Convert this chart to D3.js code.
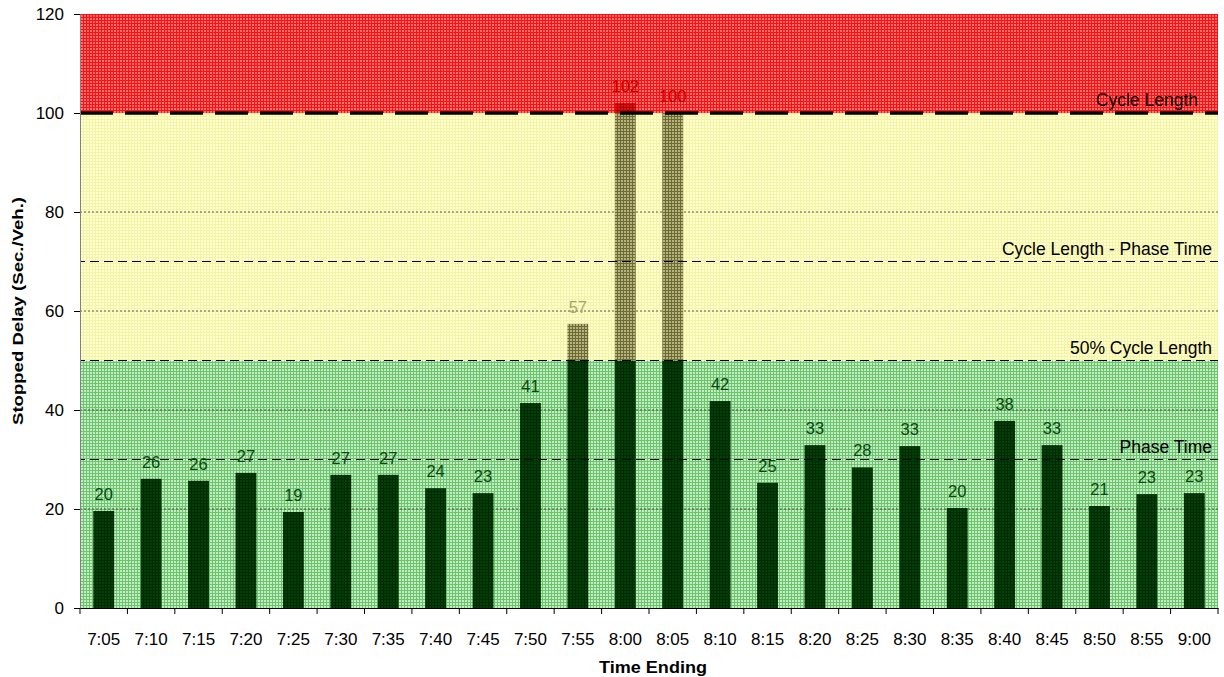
<!DOCTYPE html>
<html>
<head>
<meta charset="utf-8">
<script src="https://cdn.jsdelivr.net/npm/d3@7"></script>
<style>
  body { margin: 0; background: #fff; }
  text { font-family: "Liberation Sans", Arial, sans-serif; }
</style>
</head>
<body>
<div id="chart"></div>
<script>
// data (bar heights; labels show them rounded)
var times = ["7:05","7:10","7:15","7:20","7:25","7:30","7:35","7:40","7:45","7:50","7:55","8:00",
             "8:05","8:10","8:15","8:20","8:25","8:30","8:35","8:40","8:45","8:50","8:55","9:00"];
var delays = [19.6,26.1,25.7,27.3,19.4,26.9,26.9,24.2,23.2,41.4,57.4,102,
              100,41.8,25.3,32.9,28.4,32.7,20.2,37.8,32.9,20.6,23.0,23.2];
var yTicks = [0,20,40,60,80,100,120];
var refValues = [100,70,50,30];
var refLabels = ["Cycle Length","Cycle Length - Phase Time","50% Cycle Length","Phase Time"];
var zoneLows = [0,50,100];
var zoneHighs = [50,100,120];

var W = 1224, H = 677;
var margin = {top: 14, right: 6, bottom: 69, left: 80},
    width = W - margin.left - margin.right,
    height = H - margin.top - margin.bottom;

var svg = d3.select("#chart").append("svg")
  .attr("width", W).attr("height", H);

// textured fills, like the spreadsheet's pattern fills
var defs = svg.append("defs");
function grid(id, bg, line) {
  var p = defs.append("pattern").attr("id", id)
    .attr("width", 3).attr("height", 3).attr("patternUnits", "userSpaceOnUse");
  p.append("rect").attr("width", 3).attr("height", 3).attr("fill", bg);
  p.append("rect").attr("width", 3).attr("height", 1).attr("fill", line);
  p.append("rect").attr("width", 1).attr("height", 3).attr("fill", line);
}
grid("zoneG", "#c4ecc4", "#6cc46c");
grid("zoneY", "#ffffd0", "#f4f4a8");
grid("zoneR", "#ff7070", "#ff1010");
grid("barG", "#00400a", "#002a00");
grid("barY", "#b8b478", "#6c6a38");
grid("barR", "#e01010", "#b00000");
var zoneFills = ["url(#zoneG)","url(#zoneY)","url(#zoneR)"];
var barFills = ["url(#barG)","url(#barY)","url(#barR)"];
var labelColors = ["#0a4a10","#a8a470","#c00000"];

var g = svg.append("g").attr("transform", "translate(" + margin.left + "," + margin.top + ")");

var x = d3.scaleBand().domain(times).range([0, width]).paddingInner(0.56).paddingOuter(0.28);
var y = d3.scaleLinear().domain([0, 120]).range([height, 0]);

// background zones
g.selectAll(".zone").data(zoneLows).enter().append("rect")
  .attr("x", 0).attr("width", width)
  .attr("y", function(d, i) { return y(zoneHighs[i]); })
  .attr("height", function(d, i) { return y(d) - y(zoneHighs[i]); })
  .attr("fill", function(d, i) { return zoneFills[i]; });

// gridlines
g.selectAll(".gl").data(yTicks.filter(function(d) { return d > 0 && d < 120 && d !== 100; }))
  .enter().append("line")
  .attr("x1", 0).attr("x2", width)
  .attr("y1", function(d) { return y(d); }).attr("y2", function(d) { return y(d); })
  .attr("stroke", "#333").attr("stroke-width", 0.8).attr("stroke-dasharray", "2,2");

// bars split by zone
var segs = [];
delays.forEach(function(v, i) {
  zoneLows.forEach(function(lo, z) {
    if (v > lo) segs.push({t: times[i], lo: lo, hi: Math.min(v, zoneHighs[z]), z: z});
  });
});
g.selectAll(".seg").data(segs).enter().append("rect")
  .attr("x", function(d) { return x(d.t); })
  .attr("width", x.bandwidth())
  .attr("y", function(d) { return y(d.hi); })
  .attr("height", function(d) { return y(d.lo) - y(d.hi); })
  .attr("fill", function(d) { return barFills[d.z]; });

// reference lines
g.selectAll(".ref").data(refValues).enter().append("line")
  .attr("x1", 0).attr("x2", width)
  .attr("y1", function(d) { return y(d); }).attr("y2", function(d) { return y(d); })
  .attr("stroke", "#000")
  .attr("stroke-width", function(d, i) { return i === 0 ? 3.5 : 1.2; })
  .attr("stroke-dasharray", function(d, i) { return i === 0 ? "33,12" : "9,5"; })
  .attr("stroke-dashoffset", function(d, i) { return i === 0 ? 0 : 4; });

g.selectAll(".refl").data(refValues).enter().append("text")
  .attr("x", function(d, i) { return i === 0 ? width - 20 : width - 6; })
  .attr("y", function(d) { return y(d) - 7; })
  .attr("text-anchor", "end")
  .attr("font-size", 17.5).attr("fill", "#000")
  .text(function(d, i) { return refLabels[i]; });

// value labels
function zoneOf(v) { return v >= 99.5 ? 2 : (v > 50 ? 1 : 0); }
g.selectAll(".vl").data(delays).enter().append("text")
  .attr("x", function(d, i) { return x(times[i]) + x.bandwidth() / 2; })
  .attr("y", function(d) { return y(d) - 11; })
  .attr("text-anchor", "middle")
  .attr("font-size", 16.5)
  .attr("fill", function(d) { return labelColors[zoneOf(d)]; })
  .text(function(d) { return d3.format(".0f")(d); });

// axes
var yAxis = g.append("g").call(d3.axisLeft(y).tickValues(yTicks).tickSize(6).tickPadding(10));
yAxis.select(".domain").attr("stroke", "#808080");
yAxis.selectAll("text").attr("font-size", 17).attr("fill", "#000")
  .style("font-family", "Liberation Sans, Arial, sans-serif");

var xAxis = g.append("g").attr("transform", "translate(0," + height + ")")
  .call(d3.axisBottom(x).tickSize(0).tickPadding(25));
xAxis.select(".domain").attr("stroke", "#000");
xAxis.selectAll("text").attr("font-size", 17).attr("fill", "#000")
  .style("font-family", "Liberation Sans, Arial, sans-serif");
g.selectAll(".xt").data(d3.range(times.length + 1)).enter().append("line")
  .attr("x1", function(d) { return d * width / times.length; })
  .attr("x2", function(d) { return d * width / times.length; })
  .attr("y1", height).attr("y2", height + 6)
  .attr("stroke", "#000");

// titles
svg.append("text")
  .attr("x", 653).attr("y", 673)
  .attr("text-anchor", "middle").attr("font-size", 16.5).attr("font-weight", "bold")
  .attr("textLength", 108).attr("lengthAdjust", "spacingAndGlyphs")
  .text("Time Ending");
svg.append("text")
  .attr("transform", "translate(23,311) rotate(-90)")
  .attr("text-anchor", "middle").attr("font-size", 15.5).attr("font-weight", "bold")
  .attr("textLength", 228).attr("lengthAdjust", "spacingAndGlyphs")
  .text("Stopped Delay (Sec./Veh.)");
</script>
</body>
</html>
